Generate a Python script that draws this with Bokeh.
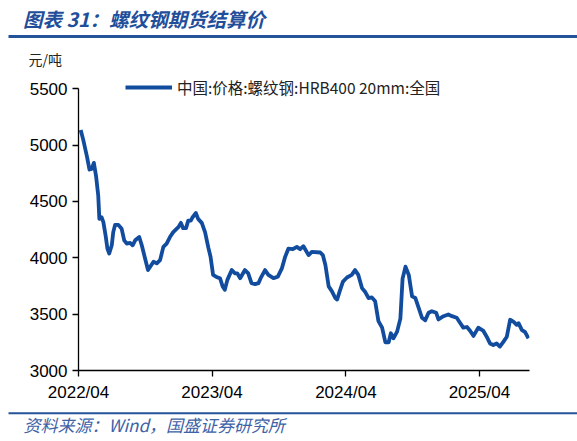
import pandas as pd
from bokeh.plotting import figure
from bokeh.models import (Range1d, FixedTicker, DatetimeTickFormatter, Legend,
                          LegendItem, ColumnDataSource, Label)
from bokeh.layouts import column
from bokeh.embed import file_html
from bokeh.resources import INLINE

# ---------------- data ----------------
dates = [
    "2022-04-07", "2022-04-14", "2022-04-24", "2022-05-01", "2022-05-07", "2022-05-13",
    "2022-05-19", "2022-05-25", "2022-05-28", "2022-06-03", "2022-06-08", "2022-06-14",
    "2022-06-19", "2022-06-24", "2022-07-01", "2022-07-05", "2022-07-10", "2022-07-19",
    "2022-07-28", "2022-08-04", "2022-08-11", "2022-08-20", "2022-08-27", "2022-09-03",
    "2022-09-14", "2022-09-21", "2022-09-30", "2022-10-08", "2022-10-14", "2022-10-23",
    "2022-11-01", "2022-11-10", "2022-11-19", "2022-11-28", "2022-12-07", "2022-12-16",
    "2022-12-30", "2023-01-06", "2023-01-12", "2023-01-20", "2023-01-26", "2023-02-02",
    "2023-02-07", "2023-02-16", "2023-02-22", "2023-03-04", "2023-03-13", "2023-03-22",
    "2023-03-28", "2023-04-04", "2023-04-14", "2023-04-23", "2023-04-30", "2023-05-06",
    "2023-05-13", "2023-05-25", "2023-06-03", "2023-06-09", "2023-06-17", "2023-06-30",
    "2023-07-09", "2023-07-18", "2023-07-28", "2023-08-06", "2023-08-12", "2023-08-24",
    "2023-09-02", "2023-09-16", "2023-09-28", "2023-10-09", "2023-10-18", "2023-10-27",
    "2023-11-08", "2023-11-19", "2023-11-28", "2023-12-07", "2023-12-21", "2023-12-30",
    "2024-01-22", "2024-01-29", "2024-02-05", "2024-02-14", "2024-02-23", "2024-03-03",
    "2024-03-08", "2024-03-15", "2024-03-24", "2024-04-04", "2024-04-17", "2024-04-26",
    "2024-05-05", "2024-05-15", "2024-05-24", "2024-06-02", "2024-06-11", "2024-06-20",
    "2024-06-29", "2024-07-09", "2024-07-18", "2024-07-27", "2024-08-02", "2024-08-09",
    "2024-08-19", "2024-08-28", "2024-09-03", "2024-09-11", "2024-09-20", "2024-09-29",
    "2024-10-08", "2024-10-17", "2024-10-26", "2024-11-04", "2024-11-13", "2024-11-22",
    "2024-12-04", "2024-12-10", "2024-12-24", "2025-01-06", "2025-01-16", "2025-01-29",
    "2025-02-07", "2025-02-16", "2025-02-26", "2025-03-07", "2025-03-16", "2025-03-29",
    "2025-04-12", "2025-04-21", "2025-04-30", "2025-05-09", "2025-05-18", "2025-05-27",
    "2025-06-06", "2025-06-15", "2025-06-24", "2025-07-03", "2025-07-12", "2025-07-17",
    "2025-07-26", "2025-08-04", "2025-08-13",
]
prices = [
    5134, 5046, 4900, 4783, 4789, 4842,
    4725, 4550, 4345, 4360, 4316, 4199,
    4082, 4038, 4111, 4228, 4292, 4292,
    4257, 4155, 4126, 4132, 4111, 4155,
    4184, 4111, 3994, 3891, 3921, 3965,
    3950, 3979, 4097, 4126, 4184, 4228,
    4272, 4310, 4263, 4263, 4330, 4330,
    4360, 4397, 4345, 4310, 4228, 4090,
    4009, 3848, 3828, 3819, 3746, 3716,
    3804, 3891, 3862, 3862, 3819, 3891,
    3862, 3775, 3766, 3775, 3819, 3891,
    3848, 3819, 3833, 3906, 4009, 4082,
    4076, 4097, 4076, 4103, 4024, 4053,
    4047, 4024, 3936, 3746, 3702, 3643,
    3629, 3702, 3789, 3825, 3848, 3891,
    3848, 3731, 3696, 3643, 3649, 3614,
    3438, 3380, 3250, 3250, 3330, 3285,
    3345, 3460, 3815, 3921, 3848, 3658,
    3643, 3556, 3468, 3445, 3512, 3526,
    3512, 3453, 3482, 3497, 3482, 3468,
    3424, 3380, 3386, 3351, 3307, 3380,
    3351, 3300, 3240, 3226, 3240, 3212,
    3256, 3300, 3450, 3434, 3405, 3420,
    3360, 3340, 3285,
]
x_tick_dates = ["2022-04-01", "2023-04-01", "2024-04-01", "2025-04-01"]
x_start, x_end = "2022-04-01", "2025-08-16"
y_ticks = [3000, 3500, 4000, 4500, 5000, 5500]

title_text = "图表 31：螺纹钢期货结算价"
unit_text = "元/吨"
series_name = "中国:价格:螺纹钢:HRB400 20mm:全国"
source_text = "资料来源：Wind，国盛证券研究所"

# ---------------- style ----------------
W = 577
CJK = "Noto Sans CJK SC"
LINE_COLOR = "#114C9E"
TITLE_COLOR = "#1F4E9A"
RULE_COLOR = "#24539A"
SRC_COLOR = "#3E62A6"

def bare(fig):
    fig.grid.visible = False
    fig.outline_line_color = None
    fig.background_fill_color = "white"
    fig.border_fill_color = "white"
    fig.frame_align = False

# ---------------- header ----------------
HH = 72
hdr = figure(width=W, height=HH, x_range=Range1d(0, W), y_range=Range1d(HH, 0),
             x_axis_location=None, y_axis_location=None, min_border=0,
             output_backend="svg", toolbar_location=None)
bare(hdr)
hdr.add_layout(Label(x=22.5, y=17.5, text=title_text, text_font=CJK, text_font_size="19.5px",
                     text_font_style="bold italic", text_color=TITLE_COLOR,
                     text_baseline="middle", text_align="left"))
hdr.segment(x0=[8], y0=[36], x1=[W], y1=[36], line_color=RULE_COLOR, line_width=3)
hdr.add_layout(Label(x=28, y=58.5, text=unit_text, text_font=CJK, text_font_size="14px",
                     text_color="#222222", text_baseline="middle", text_align="left"))

# ---------------- main chart ----------------
src = ColumnDataSource(dict(date=pd.to_datetime(dates), price=prices))
p = figure(width=W, height=332, x_axis_type="datetime",
           x_range=Range1d(pd.Timestamp(x_start), pd.Timestamp(x_end)),
           y_range=Range1d(3000, 5644),
           min_border_left=78, min_border_right=48, min_border_top=0, min_border_bottom=33,
           output_backend="svg", toolbar_location=None)
bare(p)
r = p.line("date", "price", source=src, line_color=LINE_COLOR, line_width=3.8,
           line_join="round")

p.xaxis.ticker = FixedTicker(ticks=[pd.Timestamp(d).value // 10**6 for d in x_tick_dates])
fmt = "%Y/%m"
p.xaxis.formatter = DatetimeTickFormatter(
    microseconds=fmt, milliseconds=fmt, seconds=fmt, minsec=fmt, minutes=fmt,
    hourmin=fmt, hours=fmt, days=fmt, months=fmt, years=fmt)
p.yaxis.ticker = FixedTicker(ticks=y_ticks)
p.yaxis.bounds = (3000, 5500)

for ax in (p.xaxis, p.yaxis):
    ax.axis_line_color = "black"
    ax.axis_line_width = 1.3
    ax.major_tick_line_color = "black"
    ax.major_tick_line_width = 1.3
    ax.major_tick_out = 6
    ax.major_tick_in = 0
    ax.minor_tick_line_color = None
    ax.major_label_text_font = "Liberation Sans"
    ax.major_label_text_font_size = "17px"
    ax.major_label_text_color = "black"
p.xaxis.major_label_standoff = 6
p.yaxis.major_label_standoff = 5

legend = Legend(items=[LegendItem(label=series_name, renderers=[r])],
                location=(47, 272), padding=0, margin=0, spacing=0,
                border_line_color=None, background_fill_alpha=0,
                glyph_width=47, glyph_height=20, label_height=20, label_standoff=5,
                label_text_font=CJK, label_text_font_size="15.5px",
                label_text_color="#222222")
p.add_layout(legend)

# ---------------- footer ----------------
FH = 37
ftr = figure(width=W, height=FH, x_range=Range1d(0, W), y_range=Range1d(FH, 0),
             x_axis_location=None, y_axis_location=None, min_border=0,
             output_backend="svg", toolbar_location=None)
bare(ftr)
ftr.segment(x0=[8], y0=[8.7], x1=[W], y1=[8.7], line_color=RULE_COLOR, line_width=2)
ftr.add_layout(Label(x=23, y=19.5, text=source_text, text_font=CJK, text_font_size="17px",
                     text_font_style="italic", text_color=SRC_COLOR,
                     text_baseline="middle", text_align="left"))

layout = column(hdr, p, ftr, spacing=0)
open("out.html", "w").write(file_html(layout, INLINE))
